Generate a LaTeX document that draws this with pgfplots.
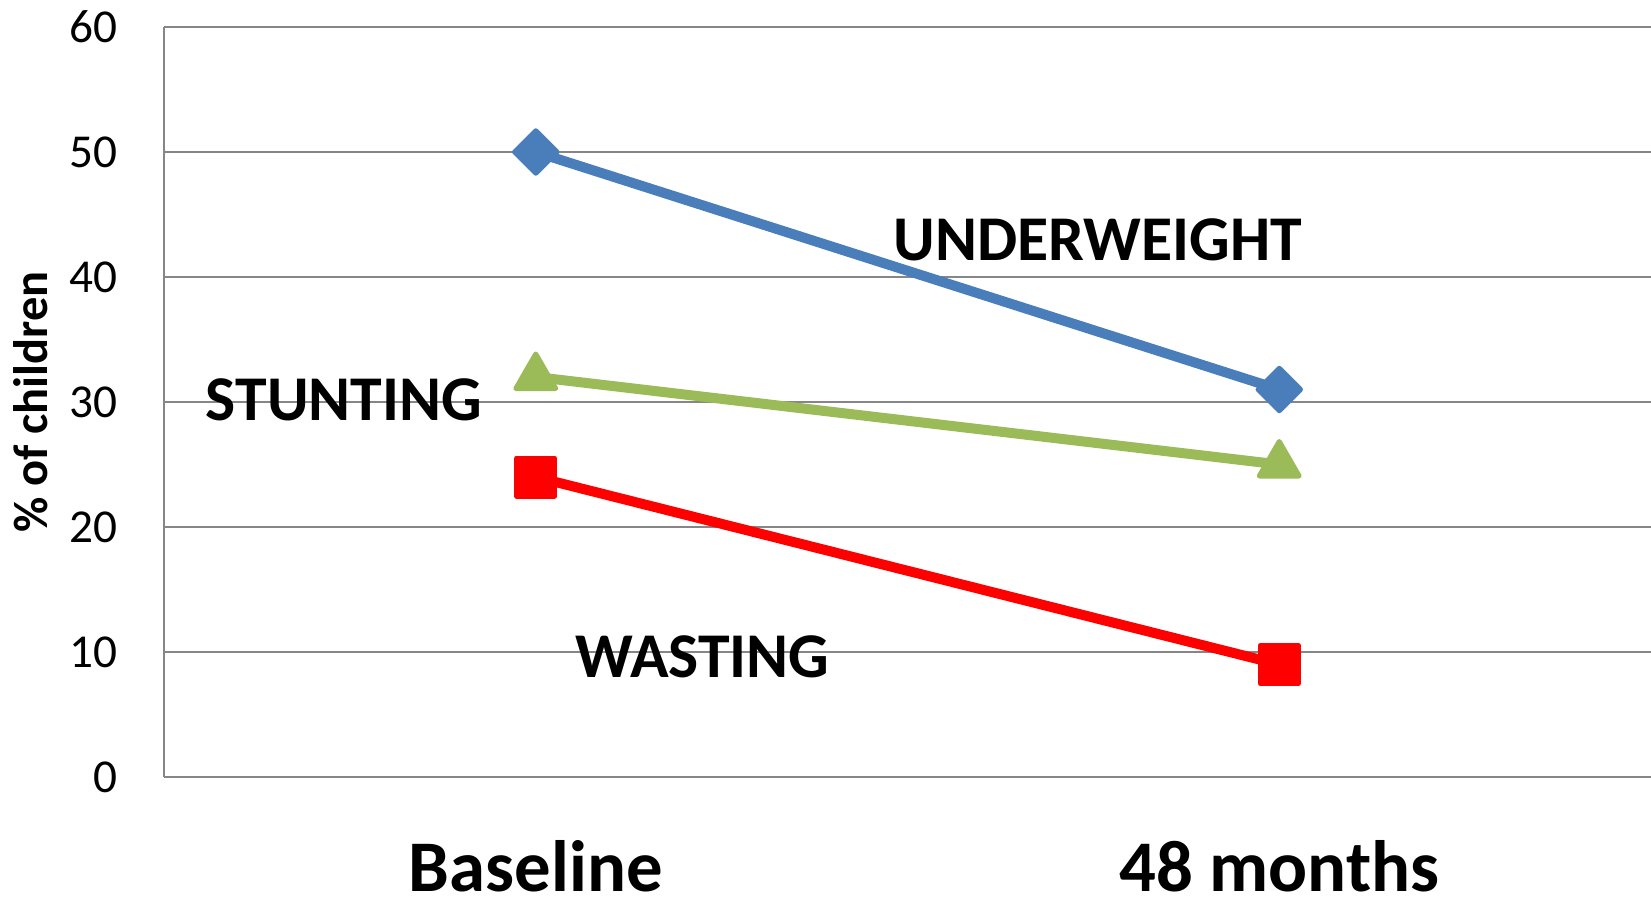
\documentclass[border=0pt]{standalone}
\usepackage{pgfplots}
\pgfplotsset{compat=1.18}
\usepackage{fontspec}
\setmainfont{Carlito}
\definecolor{uwblue}{HTML}{4A7EBB}
\definecolor{stgreen}{HTML}{9BBB59}
\definecolor{wared}{HTML}{FF0000}
\definecolor{gridgray}{HTML}{868686}
\begin{document}
\begin{tikzpicture}
\begin{axis}[
    at={(82bp,61.5bp)}, anchor=south west,
    scale only axis,
    width=743.5bp, height=375bp,
    xmin=-0.5, xmax=1.5,
    ymin=0, ymax=60,
    xtick={0,1},
    xticklabels={Baseline,48 months},
    ytick={0,10,...,60},
    axis x line=bottom, axis y line=left,
    axis line style={-, gridgray, line width=0.9bp},
    ymajorgrids, grid style={gridgray, line width=0.9bp},
    major tick length=0pt,
    /pgf/number format/assume math mode=true,
    yticklabel style={font=\fontsize{23.7}{26}\selectfont, anchor=east, inner sep=0pt, xshift=-23bp},
    xticklabel style={font=\fontsize{36.5}{40}\selectfont\bfseries, anchor=base, inner sep=0pt, yshift=-57bp},
    ylabel={\% of children},
    ylabel style={font=\fontsize{24.3}{27}\selectfont\bfseries, at={(axis description cs:0,0.5)}, anchor=base, inner sep=0pt, yshift=58bp},
    clip=false,
]
% underweight
\addplot[uwblue, line width=5bp, mark=square*, mark size=7.5bp,
    mark options={rotate=45, line width=2.5bp, line join=round, fill=uwblue}] coordinates {(0,50) (1,31)};
% stunting
\addplot[stgreen, line width=5bp, mark=triangle*, mark size=11.5bp,
    mark options={line width=2.5bp, line join=round, fill=stgreen}] coordinates {(0,32) (1,25)};
% wasting
\addplot[wared, line width=5bp, mark=square*, mark size=9.5bp,
    mark options={line width=2.5bp, line join=round, fill=wared}] coordinates {(0,24) (1,9)};

\node[anchor=base, inner sep=0pt, font=\fontsize{32}{35}\selectfont\bfseries] at (axis cs:0.756,41.3) {UNDERWEIGHT};
\node[anchor=base, inner sep=0pt, font=\fontsize{32}{35}\selectfont\bfseries] at (axis cs:-0.258,28.5) {STUNTING};
\node[anchor=base, inner sep=0pt, font=\fontsize{32}{35}\selectfont\bfseries] at (axis cs:0.224,8.0) {WASTING};
\end{axis}
\pgfresetboundingbox
\path (0,0) rectangle (825.5bp,450bp);
\end{tikzpicture}
\end{document}
